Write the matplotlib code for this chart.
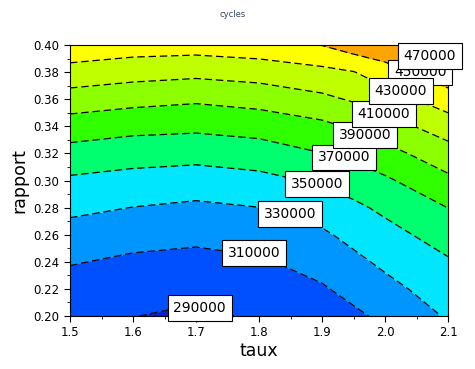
import numpy as np
import matplotlib
matplotlib.use("Agg")
import matplotlib.pyplot as plt
from matplotlib.colors import ListedColormap, BoundaryNorm

# grid axes
taux = [1.5, 1.6, 1.7, 1.8, 1.9, 1.95, 2.0, 2.1]
rapport = [0.20, 0.22, 0.24, 0.26, 0.28, 0.30, 0.32, 0.34, 0.36, 0.38, 0.40]

# cycles values (thousands), one row per rapport value, columns follow taux
cycles_k = [
    [292.0, 290.5, 285.5, 293.0, 299.0, 306.3, 314.0, 332.0],
    [301.5, 298.5, 295.8, 299.9, 308.0, 315.9, 324.1, 340.0],
    [311.4, 306.5, 304.6, 307.7, 317.4, 325.4, 333.9, 348.0],
    [322.6, 317.1, 314.5, 318.2, 327.0, 335.5, 343.4, 358.6],
    [334.4, 329.7, 326.3, 329.8, 339.0, 346.1, 354.0, 370.2],
    [347.0, 343.2, 340.6, 344.4, 352.8, 359.3, 366.9, 385.7],
    [362.9, 358.5, 356.8, 360.4, 369.7, 374.9, 383.3, 401.9],
    [380.8, 376.2, 374.4, 378.0, 385.3, 392.7, 401.5, 419.8],
    [401.0, 396.3, 393.0, 397.2, 405.7, 412.1, 420.6, 440.2],
    [422.7, 417.9, 415.2, 418.6, 424.6, 429.3, 441.1, 463.8],
    [444.0, 439.7, 438.7, 442.0, 450.5, 460.5, 465.0, 488.0],
]

levels = [290000, 310000, 330000, 350000, 370000, 390000, 410000, 430000, 450000, 470000]

band_colors = ['#0a20d0', '#0050ff', '#0096ff', '#00e6ff', '#00ff6e', '#30ff00',
               '#8cff00', '#c0ff00', '#ffff00', '#ffa500', '#ff5a00']

# label anchor points (taux, rapport) for each level
label_x = [1.706, 1.792, 1.849, 1.892, 1.935, 1.968, 1.998, 2.025, 2.056, 2.071]
label_y = [0.2059, 0.2465, 0.2753, 0.2974, 0.3173, 0.3336, 0.3491, 0.3661, 0.3800, 0.3919]
label_z = [3, 3, 3, 3, 3, 3, 3, 5, 4, 6]

X, Y = np.meshgrid(taux, rapport)
Z = np.array(cycles_k) * 1000.0

fig = plt.figure(figsize=(4.75, 3.69), dpi=100)
ax = fig.add_axes([0.1474, 0.1436, 0.7958, 0.7344])

bounds = [-1e9] + levels + [1e9]
cmap = ListedColormap(band_colors)
norm = BoundaryNorm(bounds, cmap.N)
ax.contourf(X, Y, Z, levels=bounds, cmap=cmap, norm=norm)
ax.contour(X, Y, Z, levels=levels, colors='black', linewidths=0.9,
           linestyles=[(0, (6, 3))])

for lv, lx, ly, lz in zip(levels, label_x, label_y, label_z):
    ax.text(lx, ly, str(lv), ha='center', va='center', fontsize=10, zorder=lz,
            bbox=dict(boxstyle='square,pad=0.4', fc='white', ec='black', lw=0.8),
            clip_on=False)

ax.set_xlim(1.5, 2.1)
ax.set_ylim(0.20, 0.40)
major_x = [1.5, 1.6, 1.7, 1.8, 1.9, 2.0, 2.1]
ax.set_xticks(major_x)
ax.set_xticklabels([f"{v:.1f}" for v in major_x])
ax.set_xticks(np.arange(1.55, 2.1, 0.1), minor=True)
ax.set_yticks(np.arange(0.20, 0.401, 0.02))
ax.set_yticklabels([f"{v:.2f}" for v in np.arange(0.20, 0.401, 0.02)])
ax.set_yticks(np.arange(0.21, 0.40, 0.02), minor=True)
ax.tick_params(axis='both', which='major', direction='out', length=4, labelsize=8.5)
ax.tick_params(axis='both', which='minor', direction='out', length=2.5)

ax.set_xlabel('taux', fontsize=12.5, labelpad=2)
ax.set_ylabel('rapport', fontsize=12.5, labelpad=4)
fig.text(0.49, 0.962, 'cycles', ha='center', va='center', fontsize=6, color='#334466')

fig.savefig('out.png', dpi=100)
